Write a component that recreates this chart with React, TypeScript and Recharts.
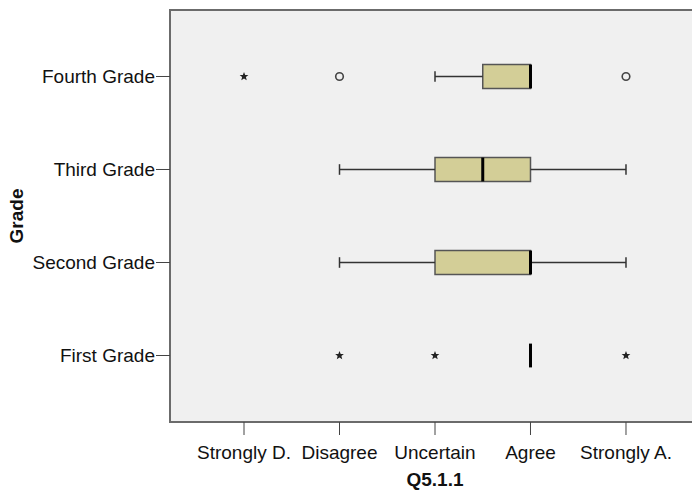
import {
  ScatterChart,
  Scatter,
  XAxis,
  YAxis,
  ReferenceArea,
  ReferenceLine,
  Label,
} from "recharts";

// categories
const grades = ["First Grade", "Second Grade", "Third Grade", "Fourth Grade"];
const responses = ["Strongly D.", "Disagree", "Uncertain", "Agree", "Strongly A."];
const gradeTicks = [1, 2, 3, 4];
const responseTicks = [1, 2, 3, 4, 5];

// box statistics per grade (First..Fourth), values on the 1..5 scale
const whiskerLow = [4, 2, 2, 3];
const q1 = [4, 3, 3, 3.5];
const median = [4, 4, 3.5, 4];
const q3 = [4, 4, 4, 4];
const whiskerHigh = [4, 5, 5, 4];

// extremes (*) and outliers (o)
const extremeGrade = [1, 1, 1, 4];
const extremeValue = [2, 3, 5, 1];
const outlierGrade = [4, 4];
const outlierValue = [2, 5];

const extremes = extremeGrade.map((g, i) => ({ grade: g, value: extremeValue[i] }));
const outliers = outlierGrade.map((g, i) => ({ grade: g, value: outlierValue[i] }));

const FONT = "'Liberation Sans', Arial, sans-serif";
const BOX_HALF = 0.128;
const CAP_HALF = 0.057;

function StarMark(props: any) {
  const { cx, cy } = props;
  if (cx == null || cy == null) return null;
  const pts: string[] = [];
  for (let i = 0; i < 10; i++) {
    const r = i % 2 === 0 ? 4.6 : 2;
    const a = -Math.PI / 2 + (i * Math.PI) / 5;
    pts.push(`${cx + r * Math.cos(a)},${cy + r * Math.sin(a)}`);
  }
  return <polygon points={pts.join(" ")} fill="#222" />;
}

function CircleMark(props: any) {
  const { cx, cy } = props;
  if (cx == null || cy == null) return null;
  return <circle cx={cx} cy={cy} r={3.8} fill="none" stroke="#444" strokeWidth={1.6} />;
}

export default function App() {
  const boxes: any[] = [];
  grades.forEach((_, i) => {
    const y = i + 1;
    if (whiskerLow[i] < q1[i]) {
      boxes.push(
        <ReferenceLine
          key={`wl${i}`}
          segment={[{ x: whiskerLow[i], y }, { x: q1[i], y }]}
          stroke="#333"
          strokeWidth={1.5}
        />,
        <ReferenceLine
          key={`cl${i}`}
          segment={[{ x: whiskerLow[i], y: y - CAP_HALF }, { x: whiskerLow[i], y: y + CAP_HALF }]}
          stroke="#333"
          strokeWidth={1.5}
        />
      );
    }
    if (whiskerHigh[i] > q3[i]) {
      boxes.push(
        <ReferenceLine
          key={`wh${i}`}
          segment={[{ x: q3[i], y }, { x: whiskerHigh[i], y }]}
          stroke="#333"
          strokeWidth={1.5}
        />,
        <ReferenceLine
          key={`ch${i}`}
          segment={[{ x: whiskerHigh[i], y: y - CAP_HALF }, { x: whiskerHigh[i], y: y + CAP_HALF }]}
          stroke="#333"
          strokeWidth={1.5}
        />
      );
    }
    if (q3[i] > q1[i]) {
      boxes.push(
        <ReferenceArea
          key={`b${i}`}
          x1={q1[i]}
          x2={q3[i]}
          y1={y - BOX_HALF}
          y2={y + BOX_HALF}
          fill="#d3ce97"
          fillOpacity={1}
          stroke="#555"
          strokeWidth={1.5}
        />
      );
    }
    boxes.push(
      <ReferenceLine
        key={`m${i}`}
        segment={[{ x: median[i], y: y - BOX_HALF }, { x: median[i], y: y + BOX_HALF }]}
        stroke="#000"
        strokeWidth={3}
      />
    );
  });

  return (
    <div
      style={{
        position: "absolute",
        left: 0,
        top: 0,
        width: 692,
        height: 490,
        overflow: "hidden",
        background: "#fff",
      }}
    >
      <ScatterChart
        width={710}
        height={490}
        margin={{ top: 10, right: 10, left: 0, bottom: 0 }}
        style={{ fontFamily: FONT }}
      >
        <XAxis
          type="number"
          dataKey="value"
          domain={[0.225, 5.775]}
          ticks={responseTicks}
          tickFormatter={(v: number) => responses[v - 1]}
          axisLine={false}
          tickLine={{ stroke: "#444" }}
          tickSize={13}
          tickMargin={11}
          height={68}
          tick={{ fill: "#111", fontSize: 19, fontFamily: FONT }}
          interval={0}
        >
          <Label
            value="Q5.1.1"
            position="insideBottom"
            offset={4}
            style={{ fontWeight: "bold", fontSize: 19, fill: "#111", fontFamily: FONT }}
          />
        </XAxis>
        <YAxis
          type="number"
          dataKey="grade"
          domain={[0.285, 4.715]}
          ticks={gradeTicks}
          tickFormatter={(v: number) => grades[v - 1]}
          axisLine={false}
          tickLine={{ stroke: "#444" }}
          tickSize={14}
          tickMargin={1}
          width={170}
          tick={{ fill: "#111", fontSize: 19, fontFamily: FONT }}
          interval={0}
        >
          <Label
            content={(p: any) => {
              const vb = p.viewBox || {};
              const cx = (vb.x || 0) + 16;
              const cy = (vb.y || 0) + (vb.height || 0) / 2;
              return (
                <text
                  x={cx}
                  y={cy}
                  transform={`rotate(-90 ${cx} ${cy})`}
                  textAnchor="middle"
                  dominantBaseline="central"
                  fontWeight="bold"
                  fontSize={19}
                  fill="#111"
                  fontFamily={FONT}
                >
                  Grade
                </text>
              );
            }}
          />
        </YAxis>
        <ReferenceArea
          x1={0.225}
          x2={5.775}
          y1={0.285}
          y2={4.715}
          fill="#f0f0f0"
          fillOpacity={1}
          stroke="#6b6b6b"
          strokeWidth={2}
        />
        {boxes}
        <Scatter data={extremes} shape={StarMark} isAnimationActive={false} />
        <Scatter data={outliers} shape={CircleMark} isAnimationActive={false} />
      </ScatterChart>
    </div>
  );
}
